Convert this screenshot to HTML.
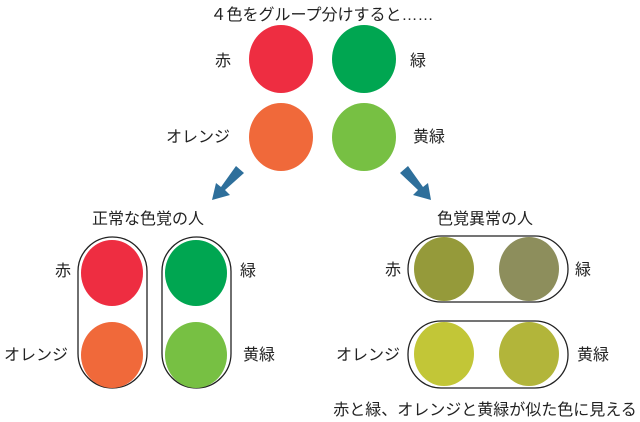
<!DOCTYPE html>
<html><head><meta charset="utf-8"><style>
html,body{margin:0;padding:0;background:#fff;width:640px;height:422px;overflow:hidden}
svg text{font-family:"Liberation Sans","Noto Sans CJK JP",sans-serif;fill:#222;font-size:16px}
</style></head><body>
<svg width="640" height="422" xmlns="http://www.w3.org/2000/svg">
<text x="322" y="20" text-anchor="middle">４色をグループ分けすると……</text>
<ellipse cx="281" cy="59" rx="32" ry="34" fill="#ee2d41"/>
<ellipse cx="364" cy="59" rx="32" ry="34" fill="#00a651"/>
<ellipse cx="281" cy="137" rx="32" ry="34" fill="#f0693a"/>
<ellipse cx="364" cy="137" rx="32" ry="34" fill="#77c043"/>
<text x="223" y="66" text-anchor="middle">赤</text>
<text x="418" y="66" text-anchor="middle">緑</text>
<text x="198" y="142" text-anchor="middle">オレンジ</text>
<text x="429" y="142" text-anchor="middle">黄緑</text>
<g fill="#2e6f9b">
<polygon points="236,166 244,173 225,190 230,195 212,200 216,183 221,187"/>
<polygon points="408,166 400,173 418,190 413,195 431,200 428,183 423,187"/>
</g>
<text x="148" y="224" text-anchor="middle">正常な色覚の人</text>
<text x="485" y="224" text-anchor="middle">色覚異常の人</text>
<rect x="78" y="237" width="69" height="151" rx="34.5" fill="none" stroke="#222" stroke-width="1.3"/>
<rect x="162" y="237" width="69" height="151" rx="34.5" fill="none" stroke="#222" stroke-width="1.3"/>
<ellipse cx="112" cy="273" rx="31" ry="33" fill="#ee2d41"/>
<ellipse cx="112" cy="355" rx="31" ry="33" fill="#f0693a"/>
<ellipse cx="196" cy="273" rx="31" ry="33" fill="#00a651"/>
<ellipse cx="196" cy="355" rx="31" ry="33" fill="#77c043"/>
<text x="63" y="276" text-anchor="middle">赤</text>
<text x="248" y="276" text-anchor="middle">緑</text>
<text x="36" y="360" text-anchor="middle">オレンジ</text>
<text x="259" y="360" text-anchor="middle">黄緑</text>
<rect x="408" y="236" width="160" height="66" rx="33" fill="none" stroke="#222" stroke-width="1.3"/>
<rect x="408" y="321" width="160" height="67" rx="33" fill="none" stroke="#222" stroke-width="1.3"/>
<ellipse cx="444" cy="269" rx="30" ry="32" fill="#959a3a"/>
<ellipse cx="529" cy="269" rx="30" ry="32" fill="#8d8e5c"/>
<ellipse cx="444" cy="354" rx="30" ry="32" fill="#c2c637"/>
<ellipse cx="529" cy="354" rx="30" ry="32" fill="#b2b53a"/>
<text x="393" y="275" text-anchor="middle">赤</text>
<text x="583" y="275" text-anchor="middle">緑</text>
<text x="368" y="360" text-anchor="middle">オレンジ</text>
<text x="593" y="360" text-anchor="middle">黄緑</text>
<text x="485" y="415" text-anchor="middle">赤と緑、オレンジと黄緑が似た色に見える</text>
</svg>
</body></html>
